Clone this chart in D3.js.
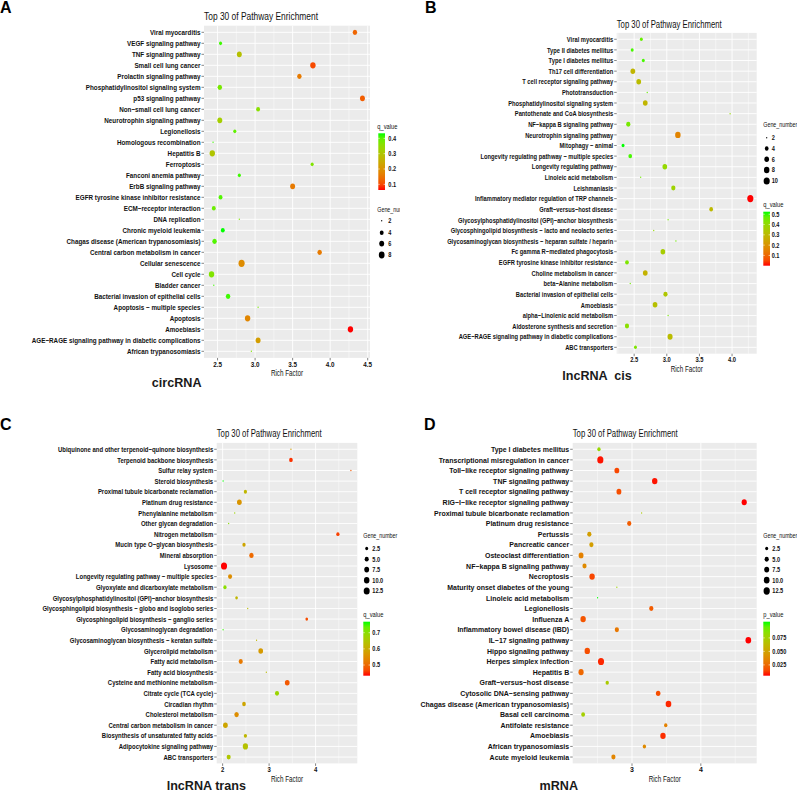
<!DOCTYPE html>
<html><head><meta charset="utf-8">
<script src="https://cdn.jsdelivr.net/npm/d3@7"></script>
<style>body{margin:0;background:#fff}svg{display:block}text{font-family:"Liberation Sans",Arial,sans-serif;white-space:pre}</style>
</head><body>
<svg id="chart" width="797" height="792"></svg>
<script>
// ---------------- DATA ----------------
const aPathways = ["Viral myocarditis","VEGF signaling pathway","TNF signaling pathway","Small cell lung cancer","Prolactin signaling pathway","Phosphatidylinositol signaling system","p53 signaling pathway","Non\u2212small cell lung cancer","Neurotrophin signaling pathway","Legionellosis","Homologous recombination","Hepatitis B","Ferroptosis","Fanconi anemia pathway","ErbB signaling pathway","EGFR tyrosine kinase inhibitor resistance","ECM\u2212receptor interaction","DNA replication","Chronic myeloid leukemia","Chagas disease (American trypanosomiasis)","Central carbon metabolism in cancer","Cellular senescence","Cell cycle","Bladder cancer","Bacterial invasion of epithelial cells","Apoptosis \u2212 multiple species","Apoptosis","Amoebiasis","AGE\u2212RAGE signaling pathway in diabetic complications","African trypanosomiasis"];
const aRich = [4.33,2.54,2.79,3.77,3.59,2.53,4.43,3.04,2.53,2.73,2.44,2.43,3.76,2.79,3.50,2.54,2.45,2.79,2.57,2.46,3.86,2.82,2.42,2.45,2.64,3.04,2.90,4.27,3.04,2.95];
const aGenes = [5,3,6,7,5,5,6,4,6,3,2,7,3,3,6,4,4,2,4,5,5,9,7,2,5,2,7,7,6,2];
const aQ = [0.13,0.42,0.29,0.10,0.16,0.38,0.12,0.36,0.32,0.40,0.42,0.30,0.37,0.42,0.16,0.41,0.39,0.37,0.433,0.41,0.16,0.19,0.37,0.42,0.42,0.38,0.18,0.063,0.22,0.37];
const aXTicks = [2.5,3.0,3.5,4.0,4.5];
const aSizeBreaks = [2,4,6,8];
const aColorBreaks = [0.1,0.2,0.3,0.4];

const bPathways = ["Viral myocarditis","Type II diabetes mellitus","Type I diabetes mellitus","Th17 cell differentiation","T cell receptor signaling pathway","Phototransduction","Phosphatidylinositol signaling system","Pantothenate and CoA biosynthesis","NF\u2212kappa B signaling pathway","Neurotrophin signaling pathway","Mitophagy \u2212 animal","Longevity regulating pathway \u2212 multiple species","Longevity regulating pathway","Linoleic acid metabolism","Leishmaniasis","Inflammatory mediator regulation of TRP channels","Graft\u2212versus\u2212host disease","Glycosylphosphatidylinositol (GPI)\u2212anchor biosynthesis","Glycosphingolipid biosynthesis \u2212 lacto and neolacto series","Glycosaminoglycan biosynthesis \u2212 heparan sulfate / heparin","Fc gamma R\u2212mediated phagocytosis","EGFR tyrosine kinase inhibitor resistance","Choline metabolism in cancer","beta\u2212Alanine metabolism","Bacterial invasion of epithelial cells","Amoebiasis","alpha\u2212Linolenic acid metabolism","Aldosterone synthesis and secretion","AGE\u2212RAGE signaling pathway in diabetic complications","ABC transporters"];
const bRich = [2.61,2.47,2.64,2.48,2.57,2.70,2.67,3.97,2.41,3.17,2.33,2.44,2.97,2.60,3.10,4.28,3.68,3.02,2.80,3.14,2.94,2.39,2.67,2.44,2.98,2.82,3.02,2.39,3.05,2.52];
const bGenes = [3,3,3,6,6,2,6,2,5,8,3,4,6,2,5,10,4,2,2,2,6,4,6,2,5,6,2,5,7,3];
const bQ = [0.47,0.50,0.50,0.29,0.31,0.47,0.29,0.40,0.45,0.16,0.525,0.50,0.40,0.46,0.38,0.0,0.30,0.45,0.40,0.46,0.36,0.44,0.28,0.46,0.34,0.32,0.45,0.42,0.31,0.44];
const bXTicks = [2.5,3.0,3.5,4.0];
const bSizeBreaks = [2,4,6,8,10];
const bColorBreaks = [0.1,0.2,0.3,0.4,0.5];

const cPathways = ["Ubiquinone and other terpenoid\u2212quinone biosynthesis","Terpenoid backbone biosynthesis","Sulfur relay system","Steroid biosynthesis","Proximal tubule bicarbonate reclamation","Platinum drug resistance","Phenylalanine metabolism","Other glycan degradation","Nitrogen metabolism","Mucin type O\u2212glycan biosynthesis","Mineral absorption","Lysosome","Longevity regulating pathway \u2212 multiple species","Glyoxylate and dicarboxylate metabolism","Glycosylphosphatidylinositol (GPI)\u2212anchor biosynthesis","Glycosphingolipid biosynthesis \u2212 globo and isoglobo series","Glycosphingolipid biosynthesis \u2212 ganglio series","Glycosaminoglycan degradation","Glycosaminoglycan biosynthesis \u2212 keratan sulfate","Glycerolipid metabolism","Fatty acid metabolism","Fatty acid biosynthesis","Cysteine and methionine metabolism","Citrate cycle (TCA cycle)","Circadian rhythm","Cholesterol metabolism","Central carbon metabolism in cancer","Biosynthesis of unsaturated fatty acids","Adipocytokine signaling pathway","ABC transporters"];
const cRich = [3.47,3.47,4.76,2.01,2.49,2.36,2.26,2.13,4.48,2.46,2.62,2.03,2.16,2.05,2.30,2.54,3.81,2.01,2.73,2.82,2.39,2.94,3.39,3.17,2.46,2.30,2.06,2.49,2.49,2.13];
const cGenes = [1,4,1,1,3,7,1,1,3,3,6,13,5,3,2,1,2,1,1,7,5,1,7,5,4,6,7,3,9,5];
const cQ = [0.58,0.45,0.48,0.768,0.62,0.56,0.68,0.70,0.46,0.59,0.50,0.434,0.55,0.70,0.62,0.63,0.47,0.76,0.62,0.57,0.52,0.63,0.48,0.68,0.59,0.55,0.59,0.62,0.64,0.65];
const cXTicks = [2,3,4];
const cSizeBreaks = [2.5,5,7.5,10,12.5];
const cColorBreaks = [0.5,0.6,0.7];

const dPathways = ["Type I diabetes mellitus","Transcriptional misregulation in cancer","Toll\u2212like receptor signaling pathway","TNF signaling pathway","T cell receptor signaling pathway","RIG\u2212I\u2212like receptor signaling pathway","Proximal tubule bicarbonate reclamation","Platinum drug resistance","Pertussis","Pancreatic cancer","Osteoclast differentiation","NF\u2212kappa B signaling pathway","Necroptosis","Maturity onset diabetes of the young","Linoleic acid metabolism","Legionellosis","Influenza A","Inflammatory bowel disease (IBD)","IL\u221217 signaling pathway","Hippo signaling pathway","Herpes simplex infection","Hepatitis B","Graft\u2212versus\u2212host disease","Cytosolic DNA\u2212sensing pathway","Chagas disease (American trypanosomiasis)","Basal cell carcinoma","Antifolate resistance","Amoebiasis","African trypanosomiasis","Acute myeloid leukemia"];
const dRich = [2.52,2.54,2.78,3.33,2.81,4.63,3.14,2.96,2.38,2.41,2.26,2.31,2.42,2.78,2.50,3.28,2.29,2.78,4.69,2.35,2.55,2.26,2.64,3.38,3.53,2.29,3.49,3.45,3.18,2.73];
const dGenes = [3,12,7,9,7,8,1,5,5,5,7,5,9,1,1,5,9,5,10,9,12,8,3,6,10,4,3,9,3,5];
const dP = [0.080,0.006,0.014,0.006,0.016,0.005,0.072,0.020,0.048,0.048,0.034,0.038,0.014,0.078,0.105,0.020,0.018,0.030,0.005,0.016,0.008,0.024,0.072,0.016,0.008,0.075,0.034,0.009,0.038,0.036];
const dXTicks = [3,4];
const dSizeBreaks = [2.5,5,7.5,10,12.5];
const dColorBreaks = [0.025,0.05,0.075];

const panelTitle = "Top 30 of Pathway Enrichment";

// ---------------- LAYOUT ----------------
const panels = [
  {id:"A", pathways:aPathways, rich:aRich, genes:aGenes, col:aQ, xTicks:aXTicks, xFmt:d3.format(".1f"),
   sizeBreaks:aSizeBreaks, sizeFmt:d3.format("d"), colorBreaks:aColorBreaks, colorFmt:d3.format(".1f"), colorTitle:"q_value",
   clip:[0,0,400,395], left:204, right:370, top:25.7, bottom:357.9, labSx:0.83, titleSx:0.765, titleY:20,
   letterX:0, letterY:12.5, name:"circRNA", nameX:176.7, nameY:386.5,
   size:{titleX:377.3, titleY:210, dotX:381.7, labX:388.3, y:[220.7,232.7,243.6,255]},
   cbar:{titleX:377.3, titleY:126.7, x:378.3, w:6.7, top:133.3, bottom:190, labX:388.3}},
  {id:"B", pathways:bPathways, rich:bRich, genes:bGenes, col:bQ, xTicks:bXTicks, xFmt:d3.format(".1f"),
   sizeBreaks:bSizeBreaks, sizeFmt:d3.format("d"), colorBreaks:bColorBreaks, colorFmt:d3.format(".1f"), colorTitle:"q_value",
   clip:[400,0,397,395], left:616.7, right:756.7, top:32.9, bottom:353.7, labSx:0.76, titleSx:0.705, titleY:28,
   letterX:425, letterY:12.5, name:"lncRNA  cis", nameX:597, nameY:380,
   size:{titleX:763.3, titleY:125, dotX:766.7, labX:771.7, y:[137.7,148.5,159.2,170,181]},
   cbar:{titleX:763.3, titleY:205, x:763.3, w:6.7, top:211.7, bottom:265.7, labX:771.7}},
  {id:"C", pathways:cPathways, rich:cRich, genes:cGenes, col:cQ, xTicks:cXTicks, xFmt:d3.format("d"),
   sizeBreaks:cSizeBreaks, sizeFmt:d3.format(".1f"), colorBreaks:cColorBreaks, colorFmt:d3.format(".1f"), colorTitle:"q_value",
   clip:[0,395,400,397], left:216.7, right:357.3, top:442.9, bottom:763.4, labSx:0.785, titleSx:0.705, titleY:437,
   letterX:0, letterY:429.5, name:"lncRNA trans", nameX:206.3, nameY:789.8,
   size:{titleX:363.3, titleY:535.7, dotX:366.7, labX:372.3, y:[548.5,559.2,569.6,580.2,591]},
   cbar:{titleX:363.3, titleY:614.3, x:363.3, w:6.7, top:621.7, bottom:675.7, labX:372.3}},
  {id:"D", pathways:dPathways, rich:dRich, genes:dGenes, col:dP, xTicks:dXTicks, xFmt:d3.format("d"),
   sizeBreaks:dSizeBreaks, sizeFmt:d3.format(".1f"), colorBreaks:dColorBreaks, colorFmt:d3.format(".3f"), colorTitle:"p_value",
   clip:[400,395,397,397], left:572.7, right:756.7, top:442.9, bottom:763.4, labSx:0.92, titleSx:0.705, titleY:437,
   letterX:424, letterY:429.5, name:"mRNA", nameX:558.8, nameY:789.8,
   size:{titleX:763.3, titleY:535.7, dotX:766.7, labX:772.3, y:[548.5,559.2,569.6,580.2,591]},
   cbar:{titleX:763.3, titleY:614.3, x:763.3, w:6.7, top:621.7, bottom:675.7, labX:772.3}}
];

const svg = d3.select("#chart");
const defs = svg.append("defs");

function txt(g, x, y, s, o) {
  return g.append("text")
    .attr("transform", `translate(${x},${y}) scale(${o.sx || 1},1)`)
    .attr("font-size", o.size).attr("font-weight", o.weight || "normal")
    .attr("text-anchor", o.anchor || "start")
    .attr("dy", o.dy == null ? "0.35em" : o.dy)
    .attr("fill", o.fill || "#111")
    .text(s);
}

panels.forEach(p => {
  defs.append("clipPath").attr("id", "clip" + p.id).append("rect")
    .attr("x", p.clip[0]).attr("y", p.clip[1]).attr("width", p.clip[2]).attr("height", p.clip[3]);
  const g = svg.append("g").attr("clip-path", `url(#clip${p.id})`);

  const data = p.pathways.map((name, i) => ({name, rich: p.rich[i], genes: p.genes[i], c: p.col[i]}));
  const ext = d3.extent(p.rich), pad = (ext[1] - ext[0]) * 0.05;
  const x = d3.scaleLinear().domain([ext[0] - pad, ext[1] + pad]).range([p.left, p.right]);
  const y = d3.scalePoint().domain(p.pathways).range([p.top, p.bottom]).padding(0.6);
  const cExt = d3.extent(p.col);
  const color = d3.scaleLinear().domain(cExt).range(["#FF0000", "#00FF00"]).interpolate(d3.interpolateLab);
  const gExt = d3.extent(p.genes);
  const size = d3.scaleSqrt().domain([0, gExt[1] - gExt[0]]).range([1.5, 7.2]);
  const diam = v => size(Math.max(0, v - gExt[0]));

  // panel background
  g.append("rect").attr("x", p.left).attr("y", p.top).attr("width", p.right - p.left).attr("height", p.bottom - p.top).attr("fill", "#EBEBEB");
  // minor grid
  const step = p.xTicks.length > 1 ? p.xTicks[1] - p.xTicks[0] : 1;
  const minors = [];
  for (let v = p.xTicks[0] - step / 2; v <= p.xTicks[p.xTicks.length - 1] + step / 2 + 1e-9; v += step) {
    if (v >= x.domain()[0] && v <= x.domain()[1]) minors.push(v);
  }
  g.selectAll(null).data(minors).join("line")
    .attr("x1", d => x(d)).attr("x2", d => x(d)).attr("y1", p.top).attr("y2", p.bottom)
    .attr("stroke", "#fff").attr("stroke-width", 0.45);
  // major grid
  g.selectAll(null).data(p.xTicks).join("line")
    .attr("x1", d => x(d)).attr("x2", d => x(d)).attr("y1", p.top).attr("y2", p.bottom)
    .attr("stroke", "#fff").attr("stroke-width", 0.9);
  g.selectAll(null).data(p.pathways).join("line")
    .attr("x1", p.left).attr("x2", p.right).attr("y1", d => y(d)).attr("y2", d => y(d))
    .attr("stroke", "#fff").attr("stroke-width", 0.9);

  // points
  g.selectAll(null).data(data).join("ellipse")
    .attr("cx", d => x(d.rich)).attr("cy", d => y(d.name))
    .attr("ry", d => diam(d.genes) / 2).attr("rx", d => diam(d.genes) / 2 * 0.85)
    .attr("fill", d => color(d.c));

  // y axis ticks + labels
  g.selectAll(null).data(p.pathways).join("line")
    .attr("x1", p.left - 2.5).attr("x2", p.left).attr("y1", d => y(d)).attr("y2", d => y(d))
    .attr("stroke", "#333").attr("stroke-width", 0.6);
  p.pathways.forEach(name => txt(g, p.left - 3.5, y(name), name, {size: 7.6, weight: "bold", anchor: "end", sx: p.labSx}));

  // x axis ticks + labels
  g.selectAll(null).data(p.xTicks).join("line")
    .attr("x1", d => x(d)).attr("x2", d => x(d)).attr("y1", p.bottom).attr("y2", p.bottom + 2.5)
    .attr("stroke", "#333").attr("stroke-width", 0.6);
  p.xTicks.forEach(v => txt(g, x(v), p.bottom + 6, p.xFmt(v), {size: 7.6, weight: "bold", anchor: "middle", sx: p.labSx}));
  txt(g, (p.left + p.right) / 2, p.bottom + 15.5, "Rich Factor", {size: 8.5, anchor: "middle", sx: 0.74});

  // title, panel letter, name
  txt(g, p.left, p.titleY, panelTitle, {size: 11, dy: 0, sx: p.titleSx});
  txt(g, p.letterX, p.letterY, p.id, {size: 16, weight: "bold", dy: 0, fill: "#000"});
  txt(g, p.nameX, p.nameY, p.name, {size: 12.6, weight: "bold", dy: 0, anchor: "middle", sx: 1.0, fill: "#1a1a1a"});

  // size legend
  txt(g, p.size.titleX, p.size.titleY, "Gene_number", {size: 7, sx: 0.76});
  p.sizeBreaks.forEach((v, i) => {
    const yy = p.size.y[i];
    g.append("ellipse").attr("cx", p.size.dotX).attr("cy", yy)
      .attr("ry", diam(v) / 2).attr("rx", diam(v) / 2 * 0.85).attr("fill", "#000");
    txt(g, p.size.labX, yy, p.sizeFmt(v), {size: 7, weight: "bold", sx: 0.8});
  });

  // colour bar
  const gid = "grad" + p.id;
  const grad = defs.append("linearGradient").attr("id", gid).attr("x1", 0).attr("y1", 1).attr("x2", 0).attr("y2", 0);
  d3.range(0, 1.0001, 0.1).forEach(t => grad.append("stop").attr("offset", t)
    .attr("stop-color", color(cExt[0] + t * (cExt[1] - cExt[0]))));
  const cb = p.cbar;
  const cy = d3.scaleLinear().domain(cExt).range([cb.bottom, cb.top]);
  txt(g, cb.titleX, cb.titleY, p.colorTitle, {size: 7, sx: 0.82});
  g.append("rect").attr("x", cb.x).attr("y", cb.top).attr("width", cb.w).attr("height", cb.bottom - cb.top).attr("fill", `url(#${gid})`);
  p.colorBreaks.forEach(v => {
    g.append("line").attr("x1", cb.x).attr("x2", cb.x + 1.4).attr("y1", cy(v)).attr("y2", cy(v)).attr("stroke", "#fff").attr("stroke-width", 0.6);
    g.append("line").attr("x1", cb.x + cb.w - 1.4).attr("x2", cb.x + cb.w).attr("y1", cy(v)).attr("y2", cy(v)).attr("stroke", "#fff").attr("stroke-width", 0.6);
    txt(g, cb.labX, cy(v), p.colorFmt(v), {size: 7, weight: "bold", sx: 0.8});
  });
});
</script>
</body></html>
